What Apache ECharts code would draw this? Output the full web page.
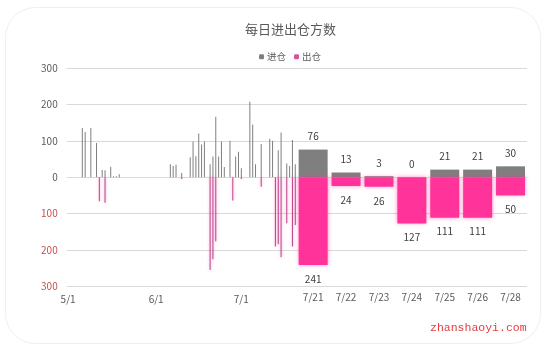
<!DOCTYPE html>
<html>
<head>
<meta charset="utf-8">
<script src="https://cdn.jsdelivr.net/npm/echarts@6/dist/echarts.min.js"></script>
<style>html,body{margin:0;padding:0;background:#fff;}#c{width:548px;height:345px;}</style>
</head>
<body>
<div id="c"></div>
<script>
var dailyDates = [
'5/1','5/2','5/3','5/4','5/5','5/6','5/7','5/8','5/9','5/10','5/11','5/12','5/13','5/14','5/15','5/16','5/17','5/18','5/19','5/20','5/21','5/22','5/23','5/24','5/25','5/26','5/27','5/28','5/29','5/30','5/31',
'6/1','6/2','6/3','6/4','6/5','6/6','6/7','6/8','6/9','6/10','6/11','6/12','6/13','6/14','6/15','6/16','6/17','6/18','6/19','6/20','6/21','6/22','6/23','6/24','6/25','6/26','6/27','6/28','6/29','6/30',
'7/1','7/2','7/3','7/4','7/5','7/6','7/7','7/8','7/9','7/10','7/11','7/12','7/13','7/14','7/15','7/16','7/17','7/18','7/19','7/20'
];
var dailyIn = [
0,0,0,0,0,135,124,0,135,0,
94,0,20,19,0,29,3,3,8,0,
0,0,0,0,0,0,0,0,0,0,
0,0,0,0,0,0,36,31,34,0,
12,0,0,55,98,58,120,90,98,0,
36,57,166,57,98,28,0,100,0,57,
70,25,0,0,207,145,36,0,91,0,
0,106,100,0,74,123,0,38,31,102,
36
];
var dailyOut = [
0,0,0,0,0,0,0,0,0,0,
0,66,0,70,0,0,0,0,0,0,
0,0,0,0,0,0,0,0,0,0,
0,0,0,0,0,0,0,0,0,0,
5,0,0,0,0,0,0,0,0,0,
255,225,176,0,0,0,0,0,64,0,
0,5,0,0,0,0,0,0,26,0,
0,0,0,190,184,220,0,126,0,190,
131
];
var recentDates = ['7/21','7/22','7/23','7/24','7/25','7/26','7/28'];
var recentIn = [76,13,3,0,21,21,30];
var recentOut = [241,24,26,127,111,111,50];
var dailyTickLabels = ['5/1','6/1','7/1'];

var FONT = '"Noto Sans CJK SC", "Open Sans", sans-serif';
var GRAY = '#7f7f7f', PINK = '#ff3399';
function neg(a){ return a.map(function(v){ return -v; }); }

var chart = echarts.init(document.getElementById('c'), null, {renderer:'canvas'});
var yCommon = {
  type:'value', min:-300, max:300, interval:100,
  axisLine:{show:false}, axisTick:{show:false},
  splitLine:{lineStyle:{color:'#d9d9d9', width:1}}
};
chart.setOption({
  backgroundColor:'#fff',
  animation:false,
  title:{text:'每日进出仓方数', left:240, top:18,
    textStyle:{fontFamily:FONT, fontSize:13, fontWeight:'normal', color:'#595959'}},
  legend:{left:254, top:47, itemWidth:5, itemHeight:5, itemGap:8,
    textStyle:{fontFamily:FONT, fontSize:9.5, color:'#595959', padding:[0,0,0,-2]},
    data:[{name:'进仓', itemStyle:{color:GRAY}},{name:'出仓', itemStyle:{color:'#d9539a'}}]},
  grid:[
    {left:66.7, right:251.3, top:68, bottom:58.5},
    {left:296.7, right:21, top:68, bottom:58.5}
  ],
  xAxis:[
    {type:'category', gridIndex:0, data:dailyDates, position:'bottom',
      axisLine:{show:false, onZero:false}, axisTick:{show:false},
      axisLabel:{interval:0, margin:8, fontFamily:FONT, fontSize:10, color:'#595959',
        formatter:function(v){ return dailyTickLabels.indexOf(v) >= 0 ? v : ''; }}},
    {type:'category', gridIndex:1, data:recentDates, position:'bottom',
      axisLine:{show:false, onZero:false}, axisTick:{show:false},
      axisLabel:{interval:0, margin:6, fontFamily:FONT, fontSize:10, color:'#595959'}}
  ],
  yAxis:[
    Object.assign({gridIndex:0}, yCommon, {
      axisLabel:{margin:9, fontFamily:FONT, fontSize:10,
        color:function(v){ return Number(v) < 0 ? '#c0504d' : '#595959'; },
        formatter:function(v){ return Math.abs(v); }}}),
    Object.assign({gridIndex:1}, yCommon, {axisLabel:{show:false}})
  ],
  graphic:[
    {type:'rect', left:3, top:5, shape:{width:535, height:336, r:30}, silent:true, z:-10,
      style:{fill:'none', stroke:'#efefef', lineWidth:1}},
    {type:'text', left:430, top:322, silent:true,
      style:{text:'zhanshaoyi.com', fill:'#e53a3f', font:'11.5px "Liberation Mono", monospace'}}
  ],
  series:[
    {name:'进仓', type:'bar', xAxisIndex:0, yAxisIndex:0, data:dailyIn, barWidth:1, barGap:'-100%',
      itemStyle:{color:GRAY}},
    {name:'出仓', type:'bar', xAxisIndex:0, yAxisIndex:0, data:neg(dailyOut), barWidth:1, barGap:'-100%',
      itemStyle:{color:'#b8438a', shadowBlur:3, shadowColor:'rgba(255,51,153,0.5)'}},
    {name:'进仓', type:'bar', xAxisIndex:1, yAxisIndex:1, data:recentIn, barWidth:29, barGap:'-100%',
      itemStyle:{color:GRAY},
      label:{show:true, position:'top', distance:8, fontFamily:FONT, fontSize:10, color:'#404040'}},
    {name:'出仓', type:'bar', xAxisIndex:1, yAxisIndex:1, data:neg(recentOut), barWidth:29, barGap:'-100%',
      itemStyle:{color:PINK, shadowBlur:4, shadowColor:'rgba(255,51,153,0.55)'},
      label:{show:true, position:'bottom', distance:9, fontFamily:FONT, fontSize:10, color:'#404040',
        formatter:function(p){ return Math.abs(p.value); }}}
  ]
});
</script>
</body>
</html>
